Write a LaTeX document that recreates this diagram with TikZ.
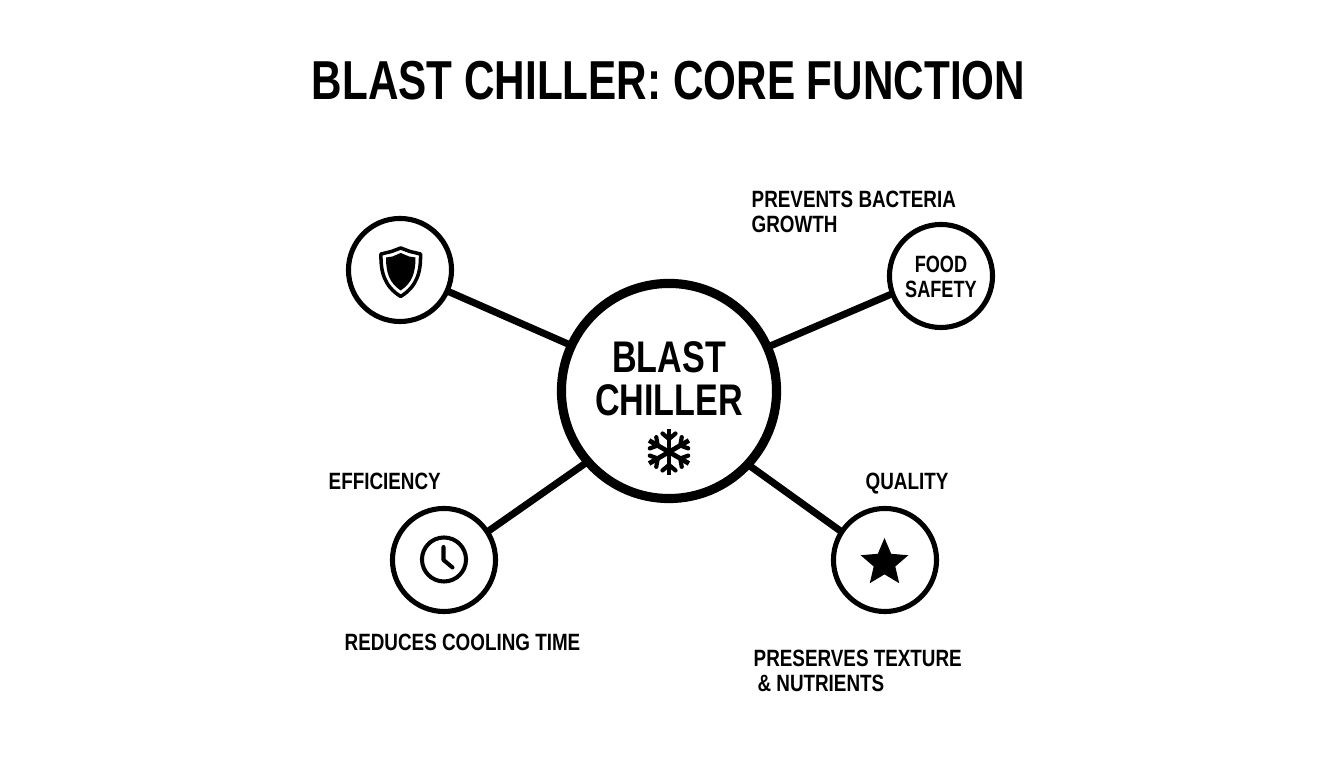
\documentclass[tikz,border=0pt]{standalone}
\usepackage{fontspec}
\newfontfamily\narrowfont[FakeStretch=0.77]{Liberation Sans}
\newfontfamily\captionfont[FakeStretch=0.80]{Liberation Sans}
\usetikzlibrary{shapes.geometric}
\tikzset{
    ring/.style={draw,circle,line width=1.45pt,outer sep=0pt,inner sep=0pt,minimum size=1.03cm,fill=white},
    hubring/.style={ring,line width=2.6pt,minimum size=2.15cm},
    spoke/.style={line width=2pt},
    heading/.style={font=\narrowfont\bfseries\fontsize{15.6}{18}\selectfont,inner sep=0pt},
    hubtext/.style={font=\narrowfont\bfseries\fontsize{12.6}{12.2}\selectfont,align=center,inner sep=0pt},
    caption/.style={font=\captionfont\bfseries\fontsize{6.7}{7.1}\selectfont,align=left,inner sep=0pt},
}
\begin{document}
\begin{tikzpicture}[x=0.01cm,y=-0.01cm,line join=round]
    \useasboundingbox (0,0) rectangle (1344,768);
    \node[heading] (title) at (668.5,81) {BLAST CHILLER: CORE FUNCTION};
    \node[hubring] (hub) at (669,391) {};
    \foreach \p/\x/\y in {shieldring/400/270,foodring/941/276,clockring/444/560,starring/885/560}
    \node[ring] (\p) at (\x,\y) {};
    \foreach \p/\a/\b in {shieldring/155/-24,foodring/24/200,clockring/221/33,starring/-43/147}
    \draw[spoke] (hub.\a)--(\p.\b);
    \node[hubtext] (hublabel) at (669,379) {BLAST\\CHILLER};
    \node[hubtext,font=\narrowfont\bfseries\fontsize{6.7}{7.1}\selectfont] (foodlabel) at (941,277) {FOOD\\SAFETY};
    % captions
    \node[caption,anchor=west] (bacteria) at (751,212) {PREVENTS BACTERIA\\GROWTH};
    \node[caption,anchor=base west] (efficiency) at (328,489.5) {EFFICIENCY};
    \node[caption,anchor=base west] (quality) at (865,489.5) {QUALITY};
    \node[caption,anchor=base west] (cooling) at (344,651) {REDUCES COOLING TIME};
    \node[caption,anchor=west] (texture) at (753,670.5) {PRESERVES TEXTURE\\\hspace*{1.1pt}\& NUTRIENTS};
    % snowflake
    \path (669,452) coordinate (F);
    \foreach \a in {30,90,...,330}{
        \draw[line width=1.35pt] (F)--++(\a:23);
        \draw[line width=1.2pt,line cap=round] (F)++(\a:13)--++(\a+50:8.5) (F)++(\a:13)--++(\a-50:8.5);
    }
    % shield
    \draw[line width=1pt,fill=white] (400.7,248) -- (410,251.5) -- (420.5,254)
        .. controls (421,272) and (417,286.5) .. (400.7,296.5)
        .. controls (384.5,286.5) and (380.5,272) .. (381,254) -- (391.5,251.5) -- cycle;
    \fill (400.7,253) -- (409,256.5) -- (415.5,257.5)
        .. controls (415.5,273) and (412,283) .. (400.7,290.5)
        .. controls (389.5,283) and (386,273) .. (386,257.5) -- (392.5,256.5) -- cycle;
    % clock
    \node[draw,circle,line width=1.15pt,inner sep=0pt,minimum size=0.44cm] (dial) at (444,559.5) {};
    \draw[line width=1.15pt,line cap=round] (443.5,547)--(443.5,560)--(452.5,567.5);
    % star
    \node[star,star points=5,star point ratio=2.2,fill,inner sep=0pt,minimum size=0.5cm] (starmark) at (884.5,563) {};
\end{tikzpicture}
\end{document}
